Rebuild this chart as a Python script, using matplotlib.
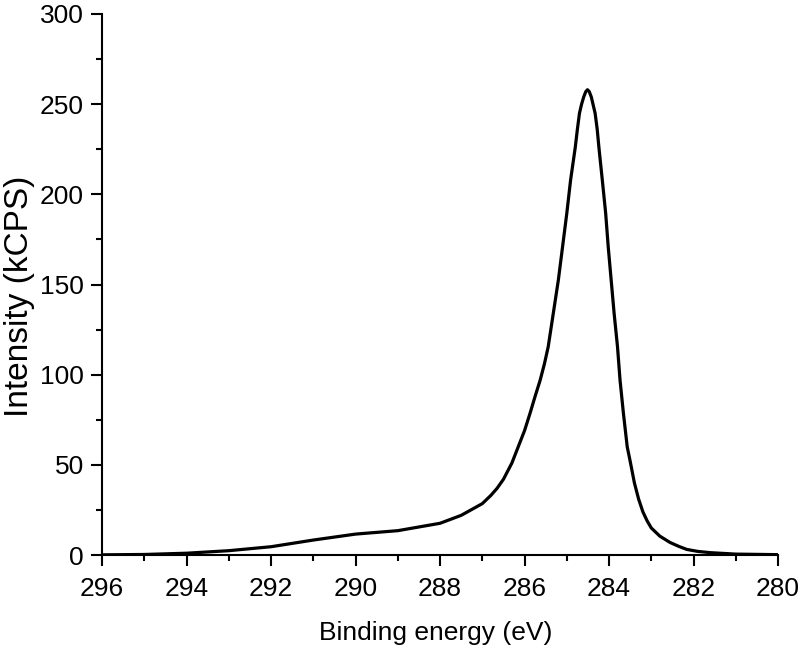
import numpy as np
import matplotlib
matplotlib.use("Agg")
import matplotlib.pyplot as plt
from matplotlib.ticker import MultipleLocator

# C 1s spectrum
binding_energy = [296.0, 295.0, 294.0, 293.0, 292.0, 291.0, 290.0, 289.0, 288.0,
                  287.5, 287.0, 286.8, 286.65, 286.5, 286.3, 286.15, 286.0,
                  285.87, 285.75, 285.63, 285.53, 285.44, 285.32, 285.2, 285.1,
                  285.0, 284.91, 284.8, 284.75, 284.7, 284.65, 284.6, 284.55,
                  284.51, 284.47, 284.42, 284.38, 284.33, 284.28, 284.24, 284.16,
                  284.08, 284.02, 283.95, 283.88, 283.8, 283.74, 283.66, 283.57,
                  283.5, 283.4, 283.3, 283.2, 283.1, 283.0, 282.8, 282.56,
                  282.35, 282.16, 281.9, 281.6, 281.0, 280.0]
intensity = [0.1, 0.3, 1.0, 2.4, 4.6, 8.3, 11.6, 13.5, 17.6,
             22.0, 28.5, 33.0, 37.0, 42.0, 51.0, 60.0, 69.0,
             78.6, 88.0, 97.0, 106.0, 115.5, 134.0, 152.5, 171.0,
             189.5, 208.0, 226.0, 236.0, 245.0, 250.0, 254.0, 257.0,
             258.0, 257.0, 254.0, 250.0, 245.0, 236.0, 226.0, 208.0,
             189.5, 171.0, 152.5, 134.0, 115.5, 97.0, 78.6, 60.0,
             52.0, 40.0, 31.0, 24.0, 19.0, 15.0, 10.5, 7.0,
             4.8, 3.1, 2.0, 1.3, 0.5, 0.2]

plt.rcParams['font.family'] = ['Liberation Sans', 'DejaVu Sans']

fig = plt.figure(figsize=(8.04, 6.48), dpi=100)
ax = fig.add_axes([0.127, 0.1435, 0.8407, 0.8349])

ax.plot(binding_energy, intensity, color='black', linewidth=2.3)

ax.set_xlim(296, 280)
ax.set_ylim(0, 300)
ax.xaxis.set_major_locator(MultipleLocator(2))
ax.xaxis.set_minor_locator(MultipleLocator(1))
ax.yaxis.set_major_locator(MultipleLocator(50))
ax.yaxis.set_minor_locator(MultipleLocator(25))

for side in ['top', 'right']:
    ax.spines[side].set_visible(False)
for side in ['left', 'bottom']:
    ax.spines[side].set_linewidth(1.5)
    ax.spines[side].set_color('black')

ax.tick_params(which='major', direction='out', length=8, width=1.5,
               labelsize=19)
ax.tick_params(axis='x', which='major', pad=8)
ax.tick_params(axis='y', which='major', pad=5)
ax.tick_params(which='minor', direction='out', length=4, width=1.5)

ax.set_xlabel('Binding energy (eV)', fontsize=19)
ax.set_ylabel('Intensity (kCPS)', fontsize=24)
ax.xaxis.set_label_coords(0.494, -0.122)
ax.yaxis.set_label_coords(-0.1, 0.479)

fig.savefig('out.png', dpi=100)
plt.close(fig)
